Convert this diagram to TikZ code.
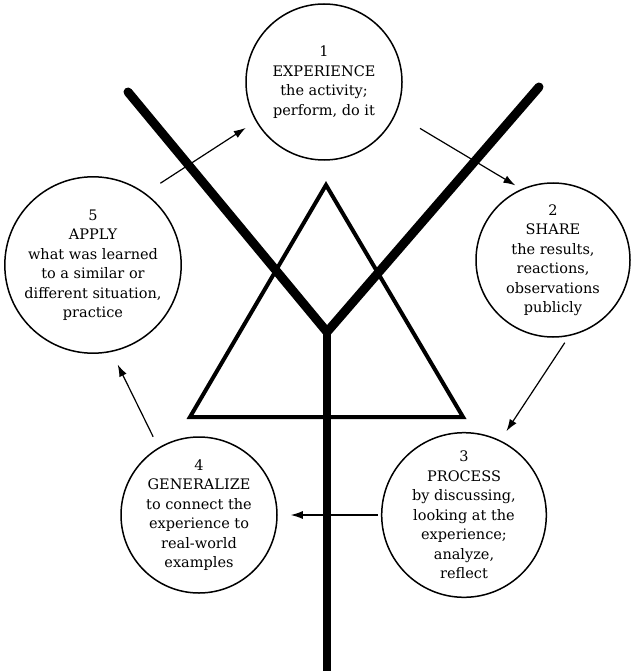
\documentclass[tikz,border=0pt]{standalone}
\usepackage{fontspec}
\setmainfont{DejaVu Serif}
\usetikzlibrary{arrows.meta}

\begin{document}
\begin{tikzpicture}[x=1pt,y=-1pt,
    stage/.style={draw,circle,line width=1.5pt,minimum size=156pt,inner sep=0pt,
      align=center,font=\fontsize{14.5}{19.5}\selectfont},
    turn/.style={-{Latex[length=12pt,width=8pt]},line width=1.2pt}]
    \useasboundingbox (0,0) rectangle (630,671);
    % the Y
    \coordinate (lefttip) at (128,92);
    \coordinate (righttip) at (539,87);
    \coordinate (fork) at (327,332);
    \coordinate (foot) at (327,671);
    \draw[line width=9pt,line cap=round,line join=miter] (lefttip) -- (fork) -- (righttip);
    \draw[line width=8.5pt] (fork) -- (foot);
    % the triangle
    \draw[line width=4pt] (326,185) -- (190,417) -- (463,417) -- cycle;
    % the five stages
    \node[stage] (exper) at (324,82) {1\\EXPERIENCE\\the activity;\\perform, do it};
    \node[stage,minimum size=154pt] (share) at (553,260) {2\\SHARE\\the results,\\reactions,\\observations\\publicly};
    \node[stage] (process) at (464,515) {3\\PROCESS\\by discussing,\\looking at the\\experience;\\analyze,\\reflect};
    \node[stage] (general) at (199,515) {4\\GENERALIZE\\to connect the\\experience to\\real-world\\examples};
    \node[stage] (apply) at (93,265) {5\\APPLY\\what was learned\\to a similar or\\different situation,\\practice};
    % the cycle
    \draw[turn,shorten <=18pt,shorten >=12pt] (apply.54) -- (exper.210);
    \draw[turn,shorten <=28pt,shorten >=7pt] (exper.-24) -- (share.114);
    \draw[turn,shorten <=8pt,shorten >=11pt] (share.-78) -- (process.64);
    \draw[turn,shorten <=3pt,shorten >=13pt] (process.180) -- (general.0);
    \draw[turn,shorten <=12pt,shorten >=14pt] (general.121) -- (apply.-78);
\end{tikzpicture}
\end{document}
